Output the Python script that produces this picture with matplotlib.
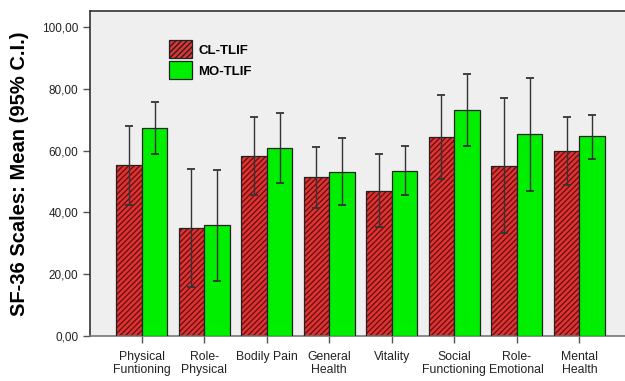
import numpy as np
import matplotlib
matplotlib.use("Agg")
import matplotlib.pyplot as plt
from matplotlib.patches import Patch

categories = ["Physical\nFuntioning", "Role-\nPhysical", "Bodily Pain", "General\nHealth",
              "Vitality", "Social\nFunctioning", "Role-\nEmotional", "Mental\nHealth"]
cl_mean = [55.3, 35.0, 58.1, 51.4, 46.9, 64.5, 55.1, 59.8]
cl_low = [42.3, 15.7, 45.6, 41.5, 35.3, 50.7, 33.2, 48.8]
cl_high = [68.0, 54.0, 70.8, 61.2, 58.8, 77.9, 77.1, 70.8]
mo_mean = [67.2, 35.8, 60.8, 53.1, 53.5, 73.1, 65.3, 64.7]
mo_low = [58.8, 17.7, 49.6, 42.3, 45.6, 61.5, 46.9, 57.3]
mo_high = [75.8, 53.8, 72.2, 63.9, 61.5, 84.8, 83.4, 71.6]
yticks = [0, 20, 40, 60, 80, 100]

plt.rcParams['font.family'] = ['Liberation Sans', 'DejaVu Sans']
plt.rcParams['hatch.linewidth'] = 1.0
plt.rcParams['hatch.color'] = '#6b1010'

red = '#e03434'
green = '#00ee00'

fig = plt.figure(figsize=(6.25, 3.81), dpi=100)
ax = fig.add_axes([0.144, 0.119, 0.856, 0.852])
ax.set_facecolor('#efefef')

x = np.arange(len(categories))
w = 0.41
xr = x - w / 2
xg = x + w / 2

# red hatched bars: fill+hatch first, then black outline
ax.bar(xr, cl_mean, w, color=red, edgecolor='#6b1010', hatch='//////', linewidth=0, zorder=2)
ax.bar(xr, cl_mean, w, fill=False, edgecolor='#222222', linewidth=0.9, zorder=3)
ax.bar(xg, mo_mean, w, color=green, edgecolor='#222222', linewidth=0.9, zorder=3)

cl_err = [np.array(cl_mean) - np.array(cl_low), np.array(cl_high) - np.array(cl_mean)]
mo_err = [np.array(mo_mean) - np.array(mo_low), np.array(mo_high) - np.array(mo_mean)]
ax.errorbar(xr, cl_mean, yerr=cl_err, fmt='none', ecolor='#333333', elinewidth=1.0,
            capsize=2.6, capthick=1.3, zorder=4)
ax.errorbar(xg, mo_mean, yerr=mo_err, fmt='none', ecolor='#333333', elinewidth=1.0,
            capsize=2.6, capthick=1.3, zorder=4)

ax.set_xlim(-0.827, 7.73)
ax.set_ylim(0, 105.2)
ax.set_yticks(yticks)
ax.set_yticklabels(['{:.2f}'.format(v).replace('.', ',') for v in yticks], fontsize=8.5, color='#222222')
ax.set_xticks(x)
ax.set_xticklabels(categories, fontsize=8.8, color='#222222', linespacing=1.1)
ax.tick_params(axis='both', length=5, width=1.0, color='#555555')
ax.tick_params(axis='x', pad=6)

for s in ['top', 'left']:
    ax.spines[s].set_color('#333333')
    ax.spines[s].set_linewidth(1.2)
ax.spines['bottom'].set_color('#777777')
ax.spines['bottom'].set_linewidth(1.2)
ax.spines['right'].set_visible(False)

ax.set_ylabel('SF-36 Scales: Mean (95% C.I.)', fontsize=14.5, fontweight='bold', labelpad=9)

handles = [Patch(facecolor=red, edgecolor='#222222', hatch='//////', linewidth=0.9),
           Patch(facecolor=green, edgecolor='#222222', linewidth=0.9)]
ax.legend(handles, ['CL-TLIF', 'MO-TLIF'], loc='upper left', bbox_to_anchor=(0.136, 0.93),
          frameon=False, prop={'weight': 'bold', 'size': 9.5},
          handlelength=1.7, handleheight=1.7, handletextpad=0.5, labelspacing=0.25, borderpad=0)

fig.savefig('out.png', dpi=100)
